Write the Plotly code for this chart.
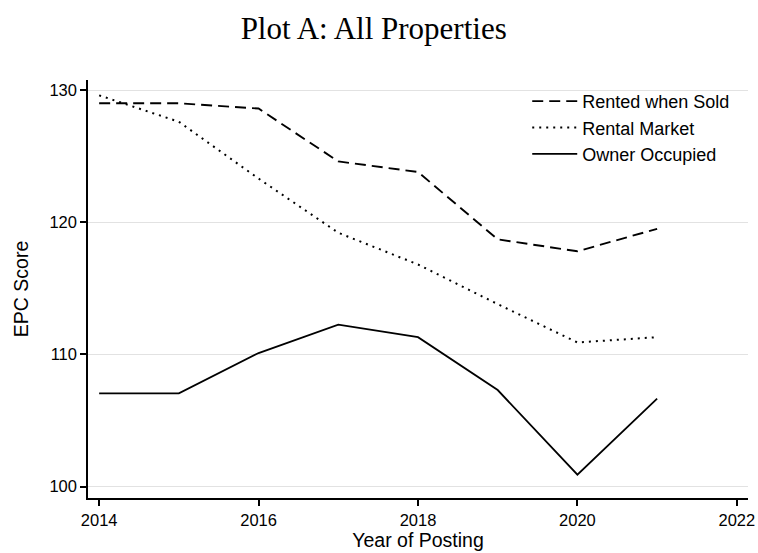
import plotly.graph_objects as go

years = [2014, 2015, 2016, 2017, 2018, 2019, 2020, 2021]
rented_when_sold = [129.0, 129.0, 128.6, 124.6, 123.8, 118.7, 117.8, 119.5]
rental_market = [129.6, 127.6, 123.3, 119.2, 116.8, 113.8, 110.9, 111.3]
owner_occupied = [107.05, 107.05, 110.1, 112.25, 111.3, 107.3, 100.9, 106.65]

series_names = ["Rented when Sold", "Rental Market", "Owner Occupied"]
x_ticks = [2014, 2016, 2018, 2020, 2022]
y_ticks = [100, 110, 120, 130]

fig = go.Figure()
styles = [("11px,6px", 1.9), ("2px,5px", 2.0), ("solid", 1.8)]
for i, (name, vals) in enumerate(zip(series_names, [rented_when_sold, rental_market, owner_occupied])):
    dash, w = styles[i]
    fig.add_trace(go.Scatter(
        x=years, y=vals, mode="lines", name=name,
        legendgroup=f"g{i}",
        line=dict(color="black", width=w, dash=dash),
    ))

fig.update_layout(
    width=758, height=553,
    paper_bgcolor="white", plot_bgcolor="white",
    margin=dict(l=88, r=10, t=80, b=55, autoexpand=False),
    font=dict(family="Liberation Sans, Arial, sans-serif", color="black"),
    title=dict(text="Plot A: All Properties", x=0.493, xanchor="center", y=0.949, yanchor="middle",
               font=dict(family="Liberation Serif, Times New Roman, serif", size=31, color="black")),
    showlegend=True,
    legend=dict(x=0.6655, y=0.993, xanchor="left", yanchor="top",
                bgcolor="rgba(255,255,255,0)", borderwidth=0, itemwidth=45,
                font=dict(size=18, color="black"), tracegroupgap=0),
)
fig.update_xaxes(
    range=[2013.86, 2022.14], tickvals=x_ticks, ticktext=[str(t) for t in x_ticks],
    showgrid=False, zeroline=False, showline=True, linecolor="black", linewidth=1.5,
    ticks="outside", ticklen=6, tickwidth=1.5, tickcolor="black",
    tickfont=dict(size=16.5), title=dict(text="Year of Posting", font=dict(size=19.5), standoff=6),
)
fig.update_yaxes(
    range=[99.13, 130.76], tickvals=y_ticks, ticktext=[str(t) for t in y_ticks],
    showgrid=True, gridcolor="#e2e2e2", gridwidth=1, zeroline=False,
    showline=True, linecolor="black", linewidth=1.5,
    ticks="outside", ticklen=6, tickwidth=1.5, tickcolor="black",
    tickfont=dict(size=16.5), title=dict(text="EPC Score", font=dict(size=19.5), standoff=16),
)

fig.write_html("out.html", config={"displayModeBar": False},
               post_script="document.body.style.margin='0px';")
